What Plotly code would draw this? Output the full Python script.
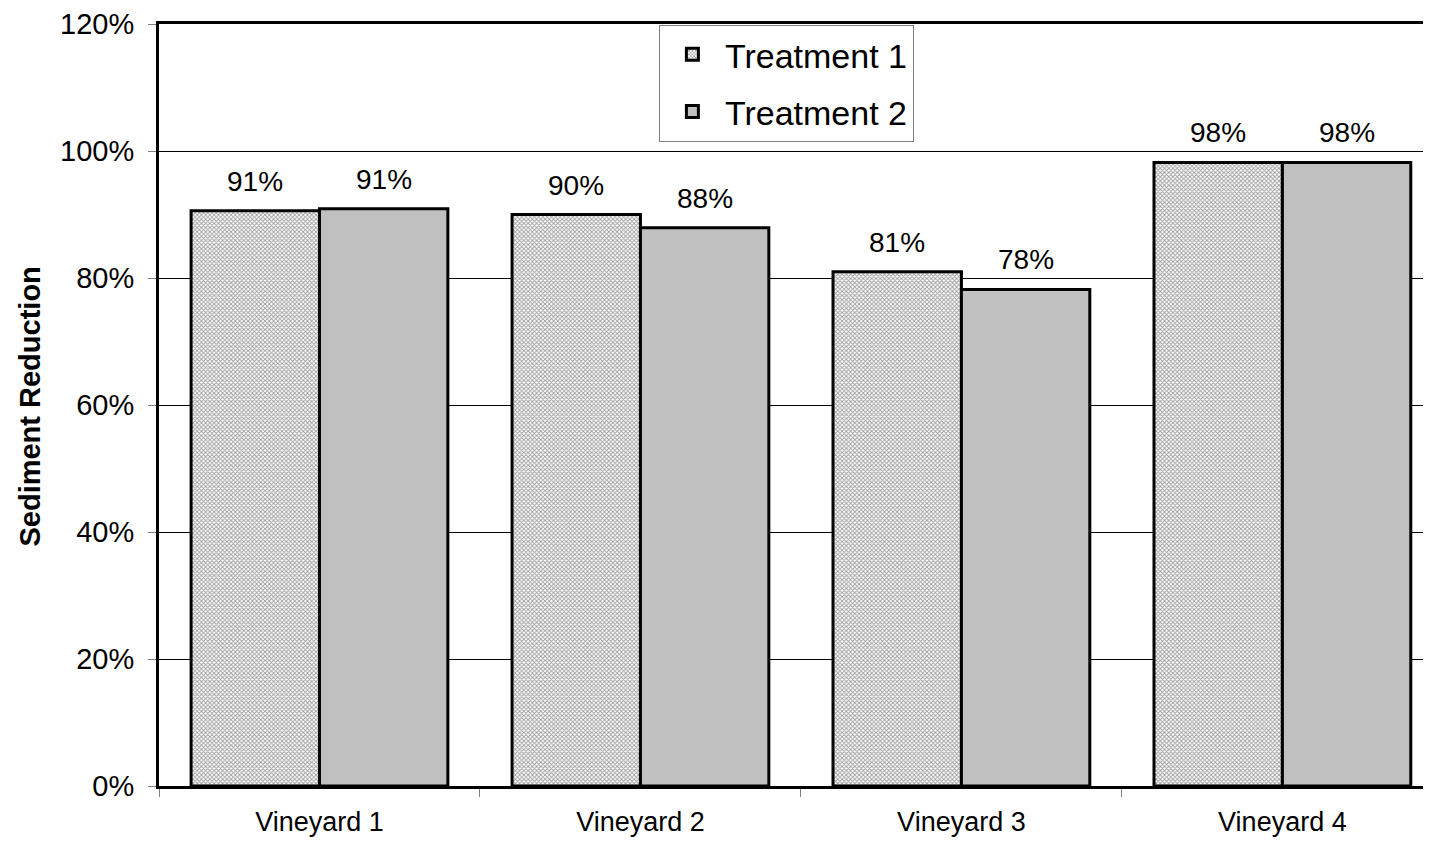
import plotly.graph_objects as go

categories = ["Vineyard 1", "Vineyard 2", "Vineyard 3", "Vineyard 4"]
treatment1 = [0.906, 0.900, 0.810, 0.982]
treatment2 = [0.909, 0.879, 0.782, 0.982]
labels1 = ["91%", "90%", "81%", "98%"]
labels2 = ["91%", "88%", "78%", "98%"]
series_names = ["Treatment 1", "Treatment 2"]

FONT = "Arial, Liberation Sans, sans-serif"

fig = go.Figure()
fig.add_trace(go.Bar(
    x=categories, y=treatment1, name=series_names[0], legendgroup="a",
    marker=dict(color="white", line=dict(color="black", width=3),
                pattern=dict(shape="x", size=3, solidity=0.5, fgcolor="#3a3a3a", bgcolor="white")),
))
fig.add_trace(go.Bar(
    x=categories, y=treatment2, name=series_names[1], legendgroup="b",
    marker=dict(color="#c0c0c0", line=dict(color="black", width=3)),
))

for i, (v1, v2) in enumerate(zip(treatment1, treatment2)):
    for off, v, lab in ((-0.2, v1, labels1[i]), (0.2, v2, labels2[i])):
        fig.add_annotation(x=i + off, y=v, xref="x", yref="y", text=lab,
                           showarrow=False, yanchor="bottom", yshift=12,
                           font=dict(size=28, color="black", family=FONT))

fig.add_annotation(x=-0.1014, y=0.498, xref="paper", yref="paper", textangle=-90,
                   text="<b>Sediment Reduction</b>", showarrow=False,
                   xanchor="center", yanchor="middle",
                   font=dict(size=29, color="black", family=FONT))

fig.update_layout(
    width=1423, height=839,
    margin=dict(l=151, r=0, t=13, b=61),
    paper_bgcolor="white", plot_bgcolor="white",
    barmode="group", bargap=0.2, bargroupgap=0,
    font=dict(family=FONT, color="black"),
    legend=dict(x=0.393, y=0.999, xanchor="left", yanchor="top",
                bgcolor="white", bordercolor="#808080", borderwidth=1,
                font=dict(size=34, family=FONT), tracegroupgap=10,
                traceorder="grouped", itemwidth=55),
    showlegend=True,
)
fig.update_xaxes(
    range=[-0.5, 3.463], showline=True, linecolor="black", linewidth=3, mirror=True,
    ticks="outside", tickson="boundaries", ticklen=8, tickcolor="#808080", tickwidth=1,
    tickfont=dict(size=27, family=FONT), showgrid=False, ticklabelstandoff=10,
)
fig.update_yaxes(
    range=[0, 1.2], dtick=0.2, tickformat=".0%", showline=True, linecolor="black", linewidth=3,
    ticks="outside", ticklen=8, tickcolor="#808080", tickwidth=1,
    tickfont=dict(size=29, family=FONT), showgrid=True, gridcolor="black", gridwidth=1,
    zeroline=False, ticklabelstandoff=8, ticklabeloverflow="allow",
)

fig.write_html("out.html")
